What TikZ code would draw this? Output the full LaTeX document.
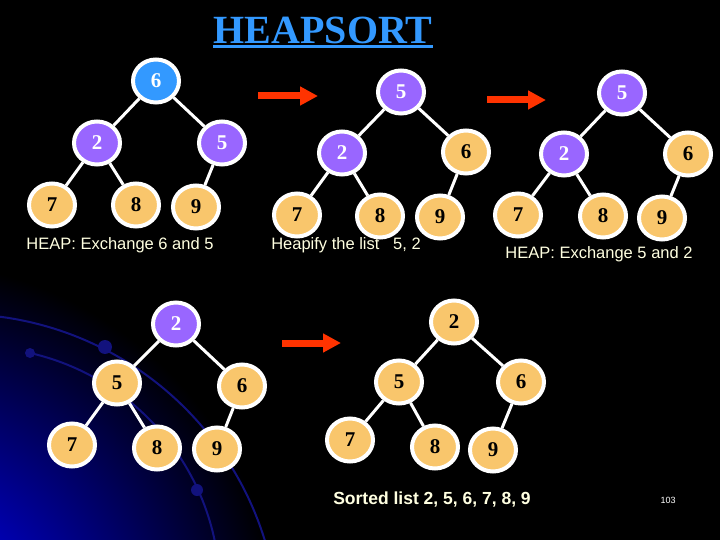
\documentclass[tikz,border=0pt]{standalone}
\usepackage{fontspec}
\setmainfont{Liberation Serif}
\setsansfont{Liberation Sans}
\usetikzlibrary{shapes.geometric, arrows.meta}
\definecolor{HSBlue}{RGB}{51,153,255}
\definecolor{HSPurple}{RGB}{153,102,255}
\definecolor{HSOrange}{RGB}{249,198,108}
\definecolor{HSRed}{RGB}{255,51,0}
\definecolor{HSCream}{RGB}{255,255,225}
\definecolor{HSNavy}{RGB}{0,0,175}
\definecolor{HSArc}{RGB}{18,18,125}
\pgfdeclareradialshading{glow}{\pgfpoint{0bp}{0bp}}{color(0bp)=(HSNavy);
  color(7bp)=(HSNavy); color(19bp)=(black); color(50bp)=(black)}

\begin{document}
\begin{tikzpicture}[x=1pt, y=-1pt,
          key/.style={ellipse, draw=white, line width=4pt, minimum width=46pt,
                      minimum height=43pt, inner sep=0pt,
                      font=\fontsize{21}{21}\selectfont\bfseries},
          orangekey/.style={key, fill=HSOrange, text=black},
          purplekey/.style={key, fill=HSPurple, text=white},
          bluekey/.style={key, fill=HSBlue, text=white},
          link/.style={white, line width=3pt},
          move/.style={HSRed, line width=7pt, -{Triangle[length=18pt, width=18pt]}},
          note/.style={text=HSCream, inner sep=0pt,
                       font=\sffamily\fontsize{16.5}{16.5}\selectfont}
        ]
        \useasboundingbox (0,0) rectangle (720,540);
        \fill[black] (0,0) rectangle (720,540);

        % backdrop
        \begin{scope}
          \clip (0,0) rectangle (720,540);
          \shade[shading=glow] (-100,640) circle (500);
          \draw[HSArc, line width=2pt] (-42,635) circle (321);
          \draw[HSArc, line width=2pt] (30,353) arc[start angle=-77.2, end angle=-5, radius=244];
          \fill[HSArc] (105,347) circle (7);
          \fill[HSArc] (30,353) circle (5);
          \fill[HSArc] (197,490) circle (6);
        \end{scope}

        % title
        \node[anchor=base, inner sep=0pt, text=HSBlue,
              font=\fontsize{40}{40}\selectfont\bfseries] (title) at (323,43.5) {HEAPSORT};
        \draw[HSBlue, line width=3pt] ([yshift=-3.5pt]title.base west)
              -- ([yshift=-3.5pt]title.base east);

        % heap 1
        \node[bluekey]   (a0) at (156,81)  {6};
        \node[purplekey] (a1) at (97,143)  {2};
        \node[purplekey] (a2) at (222,143) {5};
        \node[orangekey] (a3) at (52,205)  {7};
        \node[orangekey] (a4) at (136,205) {8};
        \node[orangekey] (a5) at (196,207) {9};

        % heap 2
        \node[purplekey] (b0) at (401,92)  {5};
        \node[purplekey] (b1) at (342,153) {2};
        \node[orangekey] (b2) at (466,152) {6};
        \node[orangekey] (b3) at (297,215) {7};
        \node[orangekey] (b4) at (380,216) {8};
        \node[orangekey] (b5) at (440,217) {9};

        % heap 3
        \node[purplekey] (c0) at (622,93)  {5};
        \node[purplekey] (c1) at (564,154) {2};
        \node[orangekey] (c2) at (688,154) {6};
        \node[orangekey] (c3) at (518,215) {7};
        \node[orangekey] (c4) at (603,216) {8};
        \node[orangekey] (c5) at (662,218) {9};

        % heap 4
        \node[purplekey] (d0) at (176,324) {2};
        \node[orangekey] (d1) at (117,383) {5};
        \node[orangekey] (d2) at (242,386) {6};
        \node[orangekey] (d3) at (72,445)  {7};
        \node[orangekey] (d4) at (157,448) {8};
        \node[orangekey] (d5) at (217,449) {9};

        % heap 5
        \node[orangekey] (e0) at (454,322) {2};
        \node[orangekey] (e1) at (399,382) {5};
        \node[orangekey] (e2) at (521,382) {6};
        \node[orangekey] (e3) at (350,440) {7};
        \node[orangekey] (e4) at (435,447) {8};
        \node[orangekey] (e5) at (493,450) {9};

        \foreach \t in {a,b,c,d,e}
          \foreach \p/\c in {0/1, 0/2, 1/3, 1/4, 2/5}
            \draw[link] (\t\p) -- (\t\c);

        % arrows between steps
        \coordinate (m1s) at (258,96);  \coordinate (m1e) at (318,96);
        \coordinate (m2s) at (487,100); \coordinate (m2e) at (546,100);
        \coordinate (m3s) at (282,343); \coordinate (m3e) at (341,343);
        \foreach \m in {1,2,3}
          \draw[move] (m\m s) -- (m\m e);

        % captions
        \node[note] (n1) at (120,245) {HEAP: Exchange 6 and 5};
        \node[note] (n2) at (346,245) {Heapify the list\ \ \ 5, 2};
        \node[note] (n3) at (599,254) {HEAP: Exchange 5 and 2};
        \node[note, font=\sffamily\bfseries\fontsize{17.5}{17.5}\selectfont]
              (sorted) at (432,500) {Sorted list 2, 5, 6, 7, 8, 9};
        \node[text=white, font=\sffamily\fontsize{9}{9}\selectfont]
              (page) at (668,500) {103};
      \end{tikzpicture}
\end{document}
